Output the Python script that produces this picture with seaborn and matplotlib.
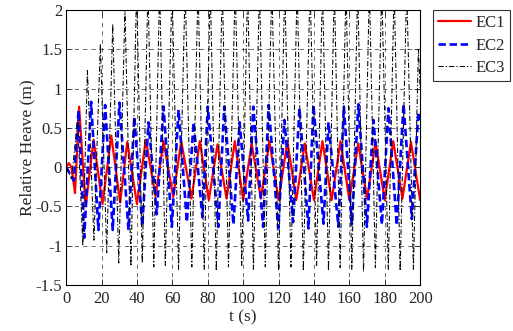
import pandas as pd
import seaborn as sns
import matplotlib.pyplot as plt

# === Data: extrema (time in s, heave in m) ===
ec1_t = [0, 1.5, 3, 5, 7.3, 11, 15.5, 20.5, 25.5, 30.5, 34.5, 40, 45, 50.5, 55, 60.5,
         65, 70.8, 75.5, 80.6, 85.5, 90.6, 95.3, 100, 104.8, 110, 114.8, 120, 125, 130,
         134.8, 140, 144.8, 150, 155, 160, 165, 170, 174.8, 180, 184.8, 190, 194.8, 200]
ec1_v = [0, 0.05, 0, -0.33, 0.77, -0.5, 0.35, -0.47, 0.4, -0.45, 0.32, -0.47, 0.35, -0.37, 0.33, -0.38,
         0.33, -0.4, 0.33, -0.42, 0.29, -0.4, 0.33, -0.42, 0.3, -0.4, 0.33, -0.42, 0.33, -0.42,
         0.3, -0.42, 0.33, -0.42, 0.33, -0.42, 0.3, -0.4, 0.32, -0.42, 0.33, -0.4, 0.32, -0.42]

ec2_t = [0, 4.3, 7, 10.2, 14.1, 18.2, 22, 26.3, 30.1, 35.2, 38.5, 43, 46.5, 51.2, 55, 59.7,
         63.5, 68.2, 72, 77, 80, 86, 89.3, 94.5, 98, 102.8, 105.7, 111.3, 114.4, 119.8, 123.3,
         128.2, 131.8, 136.9, 139.7, 145.4, 148.2, 153.8, 156.9, 161.4, 165.1, 169.9, 173.6,
         178.4, 182.1, 186.8, 190.6, 195.3, 199, 200]
ec2_v = [0, -0.17, 0.72, -0.9, 0.83, -0.8, 0.79, -0.8, 0.82, -0.8, 0.64, -0.75, 0.57, -0.6, 0.77, -0.76,
         0.73, -0.7, 0.57, -0.64, 0.77, -0.76, 0.77, -0.73, 0.57, -0.68, 0.77, -0.76, 0.79, -0.78, 0.6,
         -0.7, 0.75, -0.78, 0.79, -0.72, 0.57, -0.76, 0.77, -0.73, 0.8, -0.76, 0.6,
         -0.73, 0.75, -0.74, 0.8, -0.66, 0.7, 0.6]

ec3_t = [0, 3, 6.5, 9.4, 12, 15.7, 19.3, 22.9, 26.3, 29.7, 33.2, 36.6, 39.8, 43, 46.2, 49.5,
         52.8, 56, 59.8, 63.5, 67.2, 71, 74.5, 78, 81.4, 84.8, 88.2, 91.7, 95.5, 99.2, 102.5,
         105.8, 109.2, 112.5, 116.2, 120, 123.5, 127, 130.5, 134, 137.8, 141.5, 144.8, 148.2,
         151.5, 154.8, 158.1, 161.4, 164.7, 168, 171.3, 174.7, 178.3, 182, 185.3, 188.7,
         192.4, 196.2, 199, 200]
ec3_v = [0, -0.15, 0.6, -1.0, 1.23, -0.93, 1.57, -1.09, 1.82, -1.22, 2.02, -1.26, 2.3, -1.22, 2.3, -1.27,
         2.3, -1.25, 2.3, -1.3, 2.3, -1.27, 2.3, -1.3, 2.3, -1.32, 2.3, -1.27, 2.3, -1.25, 2.3,
         -1.3, 2.3, -1.27, 2.3, -1.32, 2.3, -1.27, 2.3, -1.32, 2.3, -1.25, 2.3, -1.32,
         2.3, -1.28, 2.3, -1.3, 2.3, -1.33, 2.3, -1.28, 2.3, -1.3, 2.3, -1.32,
         2.3, -1.3, 1.5, 1.0]

df1 = pd.DataFrame({'t': ec1_t, 'h': ec1_v})
df2 = pd.DataFrame({'t': ec2_t, 'h': ec2_v})
df3 = pd.DataFrame({'t': ec3_t, 'h': ec3_v})

# === Style ===
sns.set_style("ticks")
plt.rcParams['font.family'] = ['Liberation Serif', 'DejaVu Serif']
plt.rcParams['xtick.direction'] = 'in'
plt.rcParams['ytick.direction'] = 'in'

fig = plt.figure(figsize=(5.13, 3.31), dpi=100)
ax = fig.add_axes([0.129, 0.139, 0.690, 0.831])

sns.lineplot(data=df1, x='t', y='h', ax=ax, color='red', lw=1.6,
             sort=False, estimator=None, label='EC1')
sns.lineplot(data=df2, x='t', y='h', ax=ax, color='blue', lw=1.9,
             sort=False, estimator=None, label='EC2')
ax.lines[-1].set_dashes([2.8, 1.4])
sns.lineplot(data=df3, x='t', y='h', ax=ax, color='black', lw=0.75,
             sort=False, estimator=None, label='EC3')
ax.lines[-1].set_dashes([5, 2, 1.2, 2])

ax.set_xlim(0, 200)
ax.set_ylim(-1.5, 2)
ax.set_xticks(range(0, 201, 20))
ax.set_yticks([-1.5, -1, -0.5, 0, 0.5, 1, 1.5, 2])
ax.set_yticklabels(['-1.5', '-1', '-0.5', '0', '0.5', '1', '1.5', '2'])
ax.grid(True, color='black', linestyle=(0, (6, 6)), lw=0.5, alpha=0.8)
ax.tick_params(labelsize=12, top=True, right=True, length=4, width=0.6)
ax.tick_params(axis='x', pad=4)
ax.tick_params(axis='y', pad=3)
for s in ax.spines.values():
    s.set_linewidth(0.8)
    s.set_color('black')
ax.set_xlabel('t (s)', fontsize=12.5, labelpad=2)
ax.set_ylabel('Relative Heave (m)', fontsize=12.5, labelpad=0)

leg = ax.legend(loc='upper left', bbox_to_anchor=(1.035, 1.0), fontsize=12,
                frameon=True, fancybox=False, edgecolor='black', borderpad=0.3,
                handlelength=2.0, handletextpad=0.3, labelspacing=0.4, borderaxespad=0)
leg.get_frame().set_linewidth(0.8)

plt.savefig('out.png', dpi=100)
